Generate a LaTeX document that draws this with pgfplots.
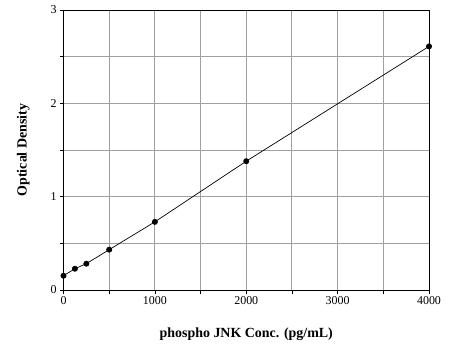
\documentclass[border=0pt]{standalone}
\usepackage{pgfplots}
\pgfplotsset{compat=1.18}
\usepackage{fontspec}
\setmainfont{Liberation Serif}
\begin{document}
\begin{tikzpicture}
\begin{axis}[
  scale only axis,
  width=365.5bp, height=280bp,
  xmin=0, xmax=4000, ymin=0, ymax=3,
  xtick={0,1000,2000,3000,4000},
  minor xtick={500,1500,2500,3500},
  ytick={0,1,2,3},
  minor ytick={0.5,1.5,2.5},
  tick pos=left,
  grid=both,
  major grid style={gray!75, line width=0.9pt},
  minor grid style={gray!75, line width=0.9pt},
  axis line style={black, line width=0.8pt},
  tick style={black, line width=0.7pt},
  tick align=outside,
  major tick length=3.5bp,
  minor tick length=3.5bp,
  /pgf/number format/assume math mode=true,
  /pgf/number format/1000 sep={},
  xticklabel={\fontsize{12}{13}\selectfont\pgfmathprintnumber{\tick}},
  yticklabel={\fontsize{12}{13}\selectfont\pgfmathprintnumber{\tick}},
  xlabel={\fontsize{14}{16}\selectfont\bfseries phospho JNK Conc. (pg/mL)},
  ylabel={\fontsize{14}{16}\selectfont\bfseries Optical Density},
  xlabel style={yshift=-16bp},
  ylabel style={yshift=14bp},
]
\addplot[black, line width=0.7pt, mark=*, mark size=2.6bp, mark options={fill=black}]
  coordinates {(0,0.153) (125,0.228) (250,0.282) (500,0.432) (1000,0.73) (2000,1.38) (4000,2.61)};
\end{axis}
\path[use as bounding box] ([xshift=-63.5bp,yshift=-61bp]current axis.south west) rectangle ([xshift=21bp,yshift=10bp]current axis.north east);
\end{tikzpicture}
\end{document}
